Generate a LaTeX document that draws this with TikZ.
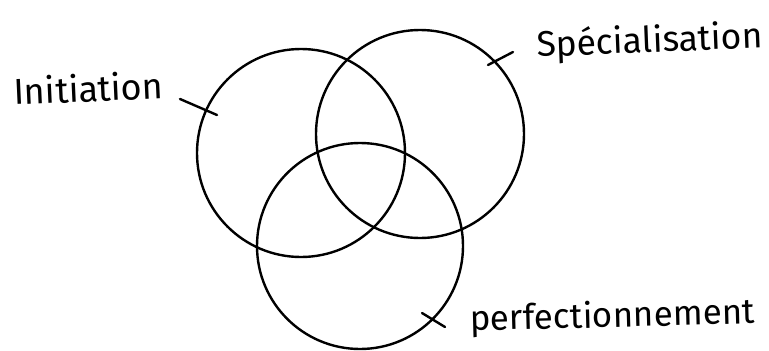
\documentclass[tikz,border=0pt]{standalone}
\usepackage{fontspec}
\setmainfont{Fira Sans}
\begin{document}
\begin{tikzpicture}[x=1pt,y=-1pt,
  setcircle/.style={circle,draw=black,line width=2.4pt,inner sep=0pt},
  tickline/.style={draw=black,line width=2.4pt,line cap=round},
  hand/.style={anchor=base west,inner sep=0pt,text=black}]
\useasboundingbox (0,0) rectangle (769,351);
\node[setcircle,minimum size=208pt] (c1) at (301,153) {};
\node[setcircle,minimum size=208pt] (c2) at (420,134) {};
\node[setcircle,minimum size=206pt] (c3) at (360,246) {};
% labels
\node[hand,rotate=2.6] (l1) at (14,105) {\resizebox{150pt}{!}{Initiation}};
\node[hand,rotate=2.3] (l2) at (537,57) {\resizebox{226pt}{!}{Spécialisation}};
\node[hand,rotate=1.5] (l3) at (470,331) {\resizebox{285pt}{!}{perfectionnement}};
% ticks
\coordinate (t1a) at (180,99);  \coordinate (t1b) at (217,115);
\coordinate (t2a) at (488,65);  \coordinate (t2b) at (513,52);
\coordinate (t3a) at (422,313); \coordinate (t3b) at (445,327);
\draw[tickline] (t1a) -- (t1b);
\draw[tickline] (t2a) -- (t2b);
\draw[tickline] (t3a) -- (t3b);
\end{tikzpicture}
\end{document}
